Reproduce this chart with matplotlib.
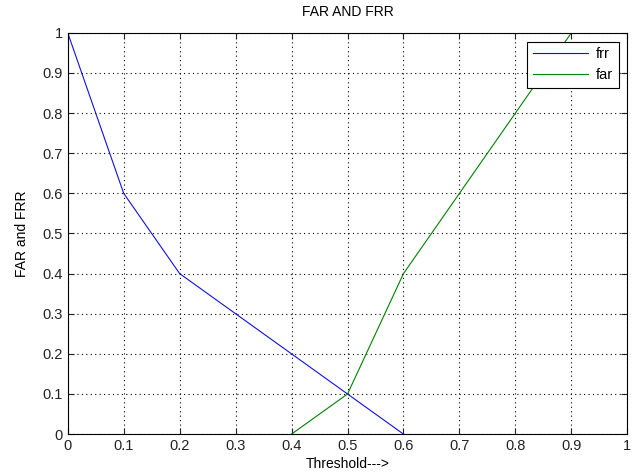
import numpy as np
import matplotlib
matplotlib.use('Agg')
import matplotlib.pyplot as plt

plt.rcParams['font.family'] = ['Liberation Sans', 'DejaVu Sans']

# threshold values and error rates
thr_frr = [0.0, 0.1, 0.2, 0.3, 0.4, 0.5, 0.6]
frr = [1.0, 0.6, 0.4, 0.3, 0.2, 0.1, 0.0]
thr_far = [0.4, 0.5, 0.6, 0.7, 0.8, 0.9]
far = [0.0, 0.1, 0.4, 0.6, 0.8, 1.0]

fig = plt.figure(figsize=(6.33, 4.76), dpi=100)
ax = fig.add_axes([0.107, 0.088, 0.884, 0.843])

ax.plot(thr_frr, frr, color='#1010e0', linewidth=0.8, label='frr')
ax.plot(thr_far, far, color='#008000', linewidth=0.8, label='far')

ax.set_xlim(0, 1)
ax.set_ylim(0, 1)
ax.set_xticks(np.arange(0, 1.01, 0.1))
ax.set_yticks(np.arange(0, 1.01, 0.1))
ax.set_xticklabels(['0', '0.1', '0.2', '0.3', '0.4', '0.5', '0.6', '0.7', '0.8', '0.9', '1'])
ax.set_yticklabels(['0', '0.1', '0.2', '0.3', '0.4', '0.5', '0.6', '0.7', '0.8', '0.9', '1'])
ax.tick_params(direction='in', top=True, right=True, labelsize=10.5, length=4, width=0.8,
               colors='#222222')
ax.grid(True, color='black', linestyle=(0, (1, 3)), linewidth=0.8)
for s in ax.spines.values():
    s.set_linewidth(0.8)

ax.set_title('FAR AND FRR', fontsize=10, pad=12)
ax.set_xlabel('Threshold--->', fontsize=10, labelpad=3)
ax.set_ylabel('FAR and FRR', fontsize=10, labelpad=10)

leg = ax.legend(loc='upper right', fontsize=10.5, fancybox=False, framealpha=1,
                edgecolor='black', handlelength=3.8, borderaxespad=0.6,
                labelspacing=0.45, handletextpad=0.5)
leg.get_frame().set_linewidth(0.8)

plt.savefig('out.png')
